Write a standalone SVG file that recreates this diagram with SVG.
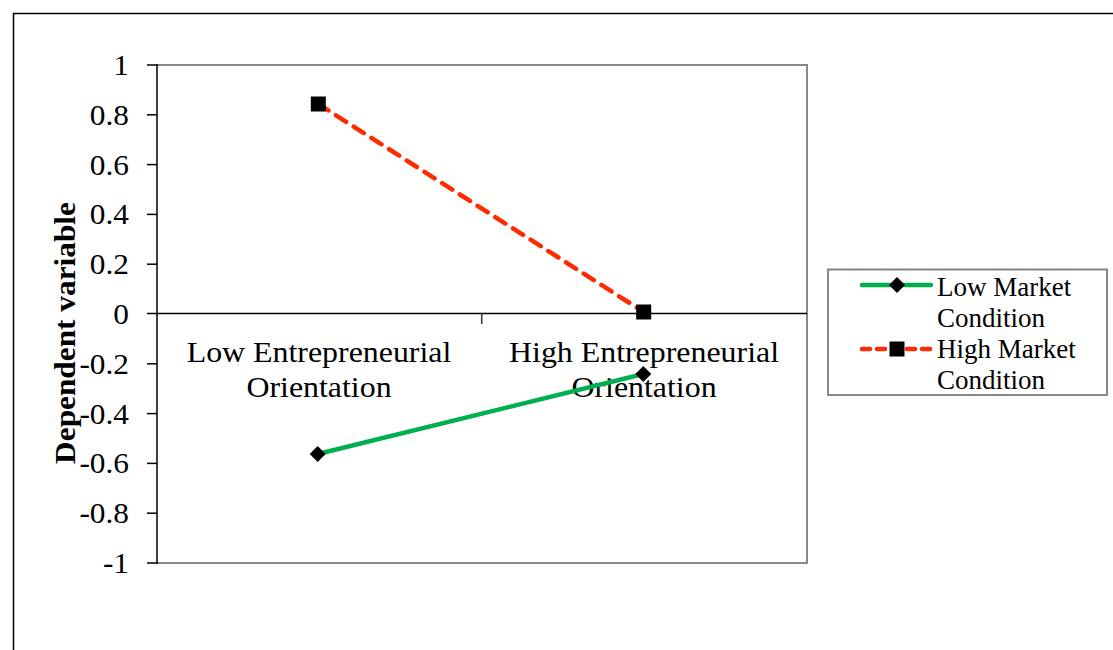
<svg xmlns="http://www.w3.org/2000/svg" width="1113" height="650" viewBox="0 0 1113 650">
<style>
.t{font-family:"Liberation Serif","Times New Roman",serif;font-size:29px;fill:#000}
.lg{font-size:27px}
.yl{text-anchor:end}
.cl{text-anchor:middle}
.ax{stroke:#000;stroke-width:1.5;fill:none}
.green{stroke:#00B050;stroke-width:4.5;fill:none;stroke-linecap:round}
.red{stroke:#FF2A00;stroke-width:4.5;fill:none;stroke-dasharray:12 9;stroke-linecap:round}
</style>
<defs>
<rect id="sq" x="-7.5" y="-7.5" width="15" height="15" fill="#000"/>
<path id="dm" d="M0,-8 L8,0 L0,8 L-8,0 Z" fill="#000"/>
</defs>
<rect width="1113" height="650" fill="#fff"/>
<path d="M13.5,660 L13.5,13.5 L1120,13.5" stroke="#000" stroke-width="1.5" fill="none"/>
<g id="plot-area">
<path d="M157,65 L807,65 L807,563 L157,563" stroke="#888" stroke-width="2" fill="none"/>
<line class="ax" x1="157" y1="64" x2="157" y2="564"/>
<line class="ax" x1="147" y1="313.5" x2="807" y2="313.5"/>
<line x1="481.7" y1="313" x2="481.7" y2="324" stroke="#333" stroke-width="1.5"/>
<g stroke="#000" stroke-width="1.5">
<line x1="147" y1="65" x2="157" y2="65"/>
<line x1="147" y1="114.8" x2="157" y2="114.8"/>
<line x1="147" y1="164.6" x2="157" y2="164.6"/>
<line x1="147" y1="214.4" x2="157" y2="214.4"/>
<line x1="147" y1="264.2" x2="157" y2="264.2"/>
<line x1="147" y1="363.8" x2="157" y2="363.8"/>
<line x1="147" y1="413.6" x2="157" y2="413.6"/>
<line x1="147" y1="463.4" x2="157" y2="463.4"/>
<line x1="147" y1="513.2" x2="157" y2="513.2"/>
<line x1="147" y1="563" x2="157" y2="563"/>
</g>
</g>
<g id="y-labels" class="t yl" transform="translate(129 0) scale(1.08 1)">
<text x="0" y="75">1</text>
<text x="0" y="125">0.8</text>
<text x="0" y="175">0.6</text>
<text x="0" y="224">0.4</text>
<text x="0" y="274">0.2</text>
<text x="0" y="324">0</text>
<text x="0" y="374">-0.2</text>
<text x="0" y="424">-0.4</text>
<text x="0" y="473">-0.6</text>
<text x="0" y="523">-0.8</text>
<text x="0" y="573">-1</text>
</g>
<g id="y-title">
<text class="t" x="0" y="0" transform="translate(75,333) rotate(-90) scale(1.08 1)" text-anchor="middle" font-weight="bold">Dependent  variable</text>
</g>
<g id="cat-low" class="t cl" transform="translate(319 0) scale(1.1 1)">
<text x="0" y="362">Low Entrepreneurial</text>
<text x="0" y="397">Orientation</text>
</g>
<g id="cat-high" class="t cl" transform="translate(644 0) scale(1.1 1)">
<text x="0" y="362">High Entrepreneurial</text>
<text x="0" y="397">Orientation</text>
</g>
<g id="connectors">
<line class="red" x1="318.3" y1="104" x2="643.7" y2="312"/>
<line class="green" x1="317.7" y1="454" x2="643.3" y2="374"/>
</g>
<g id="series-high">
<use href="#sq" x="318.3" y="104"/>
<use href="#sq" x="643.7" y="312"/>
</g>
<g id="series-low">
<use href="#dm" x="317.7" y="454"/>
<use href="#dm" x="643.3" y="374"/>
</g>
<g id="legend">
<rect x="828" y="269.5" width="279" height="125.5" fill="#fff" stroke="#888" stroke-width="2"/>
<line class="green" x1="862" y1="285" x2="931" y2="285"/>
<use href="#dm" x="897" y="285"/>
<line class="red" x1="862" y1="349" x2="931" y2="349" style="stroke-dasharray:8 7"/>
<use href="#sq" x="897" y="349"/>
<g class="t lg">
<text x="937" y="296">Low Market</text>
<text x="937" y="327">Condition</text>
<text x="937" y="358">High Market</text>
<text x="937" y="389">Condition</text>
</g>
</g>
</svg>
